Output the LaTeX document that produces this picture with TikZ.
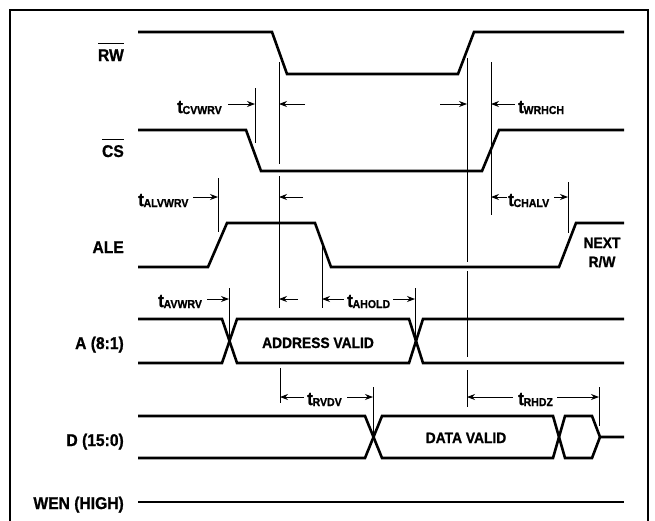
\documentclass[tikz,border=0pt]{standalone}
\usepackage{fontspec}
\setmainfont{Liberation Sans}[FakeStretch=0.92,BoldFeatures={FakeBold=1}]
\usetikzlibrary{arrows.meta}
\newcommand\myovl[1]{\vbox{\hrule height 1.5pt\kern 5pt\hbox{#1}}}
\newcommand\tsub[1]{{\fontsize{18.5}{18}\selectfont t}\kern-0.3pt{\fontsize{11.5}{12}\selectfont\raisebox{-1pt}{#1}}}
\tikzset{
  sig/.style={line width=2.6pt},
  refl/.style={line width=0.8pt},
  dim/.style={line width=0.8pt,-{Stealth[length=8pt,width=6pt]}},
  lab/.style={inner sep=0pt,font=\fontsize{17}{17}\selectfont\bfseries,anchor=base east},
  tl/.style={inner sep=0pt,font=\bfseries,anchor=base west},
  bus/.style={inner sep=0pt,font=\fontsize{15}{15}\selectfont\bfseries,anchor=base},
}
\begin{document}
\begin{tikzpicture}[x=1pt,y=-1pt]
\useasboundingbox (0,0) rectangle (655,520);
\clip (0,0) rectangle (655,520);
% frame
\draw[line width=2.5pt] (10,530) -- (10,10) -- (648,10) -- (648,530);
% signal labels
\node[lab] (lrw) at (124,61) {\myovl{RW}};
\node[lab] (lcs) at (124,157) {\myovl{CS}};
\node[lab] (lale) at (124,253) {ALE};
\node[lab] (la) at (124,349) {A (8:1)};
\node[lab] (ld) at (124,446) {D (15:0)};
\node[lab] (lwen) at (124,509) {WEN (HIGH)};
% signals
\draw[sig] (138,32) -- (272,32) -- (287,74) -- (458,74) -- (474,32) -- (624,32);
\draw[sig] (138,130) -- (246,130) -- (261,171) -- (482,171) -- (499,130) -- (624,130);
\draw[sig] (138,267) -- (208,267) -- (227,223) -- (315,223) -- (331,267) -- (559,267) -- (576,223) -- (624,223);
\draw[sig] (138,319) -- (222,319) -- (237,363) -- (409,363) -- (423,319) -- (624,319);
\draw[sig] (138,363) -- (222,363) -- (237,319) -- (409,319) -- (423,363) -- (624,363);
\draw[sig] (138,416) -- (365,416) -- (382,458) -- (553,458) -- (565,416) -- (592,416) -- (600,437) -- (624,437);
\draw[sig] (138,458) -- (365,458) -- (382,416) -- (553,416) -- (565,458) -- (592,458) -- (600,437);
\draw[sig] (138,502) -- (624,502);
% bus texts
\node[bus] (addr) at (318,348) {ADDRESS VALID};
\node[bus] (data) at (466,443) {DATA VALID};
\node[bus] (nrw) at (602,248) {NEXT};
\node[bus] (nrw2) at (602,267) {R/W};
% reference lines
\draw[refl] (255,88) -- (255,143);
\draw[refl] (279,62) -- (279,164);
\draw[refl] (279,176) -- (279,308);
\draw[refl] (467,58) -- (467,262);
\draw[refl] (467,271) -- (467,357);
\draw[refl] (467,370) -- (467,407);
\draw[refl] (491,62) -- (491,215);
\draw[refl] (568,182) -- (568,233);
\draw[refl] (218,178) -- (218,232);
\draw[refl] (229,288) -- (229,340);
\draw[refl] (322,245) -- (322,308);
\draw[refl] (415,288) -- (415,340);
\draw[refl] (280,368) -- (280,403);
\draw[refl] (373,387) -- (373,437);
\draw[refl] (599,387) -- (599,426);
% timing labels and arrows
\node[tl] (tcv) at (177,113) {\tsub{CVWRV}};
\draw[dim] (228,104) -- (255,104);
\draw[dim] (305,104) -- (279,104);
\draw[dim] (440,104) -- (467,104);
\draw[dim] (515,104) -- (491,104);
\node[tl] (twr) at (518,113) {\tsub{WRHCH}};
\node[tl] (tal) at (138,206) {\tsub{ALVWRV}};
\draw[dim] (193,197) -- (218,197);
\draw[dim] (303,197) -- (279,197);
\draw[dim] (507,197) -- (491,197);
\node[tl] (tch) at (508,206) {\tsub{CHALV}};
\draw[dim] (554,197) -- (568,197);
\node[tl] (tav) at (158,307) {\tsub{AVWRV}};
\draw[dim] (207,299) -- (229,299);
\draw[dim] (298,299) -- (279,299);
\draw[dim] (344,299) -- (322,299);
\node[tl] (tah) at (347,307) {\tsub{AHOLD}};
\draw[dim] (393,299) -- (415,299);
\draw[dim] (304,397) -- (280,397);
\node[tl] (trv) at (307,405) {\tsub{RVDV}};
\draw[dim] (347,397) -- (373,397);
\draw[dim] (513,397) -- (467,397);
\node[tl] (trh) at (518,405) {\tsub{RHDZ}};
\draw[dim] (557,397) -- (599,397);
\end{tikzpicture}
\end{document}
